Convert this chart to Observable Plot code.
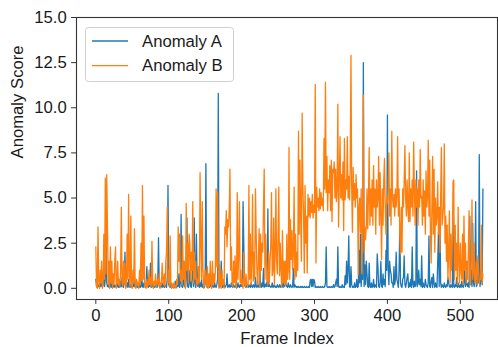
<!DOCTYPE html>
<html><head><meta charset="utf-8">
<script src="https://cdn.jsdelivr.net/npm/d3@7"></script>
<script src="https://cdn.jsdelivr.net/npm/@observablehq/plot@0.6"></script>
<style>body{margin:0;background:#fff}</style>
</head><body><div id="chart"></div>
<script>
const anomalyA = [
0.5,0.1,0.05,0.1,0.2,0.05,0.3,0.1,0.9,0.1,
0.2,1.0,0.1,0.5,3.6,0.3,0.1,0.2,0.05,0.1,
0.3,0.05,0.1,0.8,0.1,0.05,0.2,0.1,0.05,0.3,
0.1,0.05,0.2,0.05,0.4,0.1,0.6,0.1,0.05,0.3,
2.0,0.2,0.1,0.3,0.05,0.5,0.1,0.05,0.2,0.1,
0.05,0.2,0.1,0.6,0.05,0.1,0.3,0.05,0.1,0.05,
0.2,0.05,0.1,0.7,0.1,0.05,0.3,0.1,0.05,0.2,
1.2,0.1,0.05,0.2,0.1,1.4,0.05,0.1,0.3,0.05,
0.1,0.05,0.2,0.1,0.05,0.3,2.8,0.1,0.05,0.2,
0.1,0.05,0.3,0.1,0.05,0.2,0.1,0.05,0.6,5.7,
0.2,0.1,0.05,0.3,0.1,0.05,0.2,0.1,0.05,0.4,
0.1,0.05,0.2,0.1,0.8,0.05,0.3,4.1,0.1,0.05,
0.2,1.5,0.1,0.05,0.5,3.9,0.1,0.05,0.3,1.0,
0.1,0.05,0.5,2.0,0.1,3.9,0.3,0.05,3.0,0.2,
0.1,1.2,0.05,0.3,0.1,0.5,0.05,0.2,0.1,0.05,
0.3,6.9,0.1,0.05,0.2,0.1,0.05,0.4,0.1,0.05,
0.2,0.1,0.05,0.3,0.1,0.05,0.2,0.5,10.8,0.1,
0.05,0.2,1.5,0.3,0.05,0.1,0.3,0.05,0.1,0.2,
0.8,0.05,0.1,0.2,0.05,0.1,0.3,0.1,0.05,0.2,
0.1,0.05,0.2,0.1,0.05,0.3,0.1,0.05,0.2,0.1,
0.3,0.1,4.8,2.4,0.2,0.1,0.05,0.3,0.1,0.05,
0.2,0.1,0.05,0.3,0.1,0.05,0.2,0.1,0.05,0.6,
0.1,0.05,0.2,0.1,0.05,1.2,0.1,0.05,0.3,0.1,
1.1,0.05,0.2,0.1,0.3,0.1,4.4,0.1,0.2,0.1,
0.05,0.1,0.3,0.05,0.1,0.2,0.05,0.1,0.05,0.2,
0.1,0.05,0.2,0.1,0.05,0.3,0.1,0.05,1.2,0.1,
1.2,0.2,0.1,0.05,0.3,0.1,0.05,0.2,0.1,0.05,
0.1,1.1,0.05,0.2,0.1,0.05,0.1,0.05,0.1,0.05,
0.05,0.1,0.05,0.1,0.05,0.05,0.1,0.05,0.05,0.1,
0.05,0.05,0.1,0.05,0.4,0.5,0.1,0.5,0.1,0.5,
0.4,0.05,0.1,0.05,0.05,0.1,0.05,0.05,0.1,0.05,
0.05,0.1,0.05,0.05,0.1,0.3,2.3,0.1,0.05,0.05,
0.1,0.05,0.05,0.1,0.05,0.05,0.2,0.05,0.1,0.3,
0.5,0.1,2.3,0.1,0.05,0.1,0.05,0.05,0.2,0.05,
0.1,0.05,0.7,0.2,1.5,0.3,1.1,2.9,0.1,0.05,
1.2,0.2,0.05,0.1,0.05,0.3,0.05,0.1,0.5,0.05,
0.1,2.1,0.3,3.0,0.1,0.9,0.5,12.5,0.1,1.3,
0.2,1.5,0.8,0.1,0.05,1.4,0.1,0.05,0.3,0.05,
0.1,0.5,0.05,0.2,0.1,0.05,1.9,1.2,0.1,0.05,
0.3,1.5,0.1,0.05,0.8,0.2,0.5,0.1,2.1,1.0,
9.6,1.2,0.2,1.5,1.0,0.8,0.3,0.3,0.05,1.2,
0.2,0.5,2.0,0.5,0.3,0.05,1.0,3.6,0.3,0.1,
0.05,0.5,0.6,1.8,0.2,0.05,0.3,0.6,0.8,0.05,
0.3,0.1,0.5,0.05,2.3,0.2,0.05,0.4,0.1,0.2,
6.5,0.1,0.3,1.0,0.2,0.5,0.1,1.8,0.05,0.3,
0.1,0.05,0.5,0.2,0.1,0.05,0.3,2.9,0.1,0.05,
0.4,0.6,0.05,0.8,0.3,0.05,0.3,0.1,0.05,1.5,
3.1,0.1,4.2,0.3,0.05,0.2,0.1,0.05,0.3,0.1,
0.05,0.2,0.1,0.6,0.3,0.1,0.05,0.2,0.1,0.05,
3.9,0.1,0.05,0.2,0.1,0.6,0.05,0.3,0.1,0.05,
0.2,0.05,0.4,0.1,0.05,0.3,1.0,0.1,0.5,0.2,
0.1,0.3,0.05,4.0,0.2,1.0,0.1,3.6,0.3,0.1,
0.5,4.8,0.1,0.2,1.0,0.3,7.4,0.1,0.5,1.0,
0.2,5.5
];
const anomalyB = [
2.3,0.1,0,3.4,0.4,0,1.0,0.3,1.5,0,
0.2,3.0,0.5,6.1,0.8,6.3,3.5,0.2,1.5,0,
2.3,0.3,1.5,0,0.8,0.2,1.5,2.3,0,0.4,
1.5,0.2,0.5,0.1,1.0,4.5,0.3,0.1,1.5,0.3,
1.4,0,0.2,3.0,0.5,5.2,0.8,0.1,4.0,0.2,
0,1.0,0.3,3.3,0.2,0,0.5,0.2,0.3,0,
1.0,0.2,2.5,0.4,5.7,0.5,4.0,0.1,0.3,0,
0.5,0.1,0.2,1.0,0.2,0.6,0.1,2.6,0.3,0,
0.4,0.2,0.8,0.1,0.3,0.5,0.2,0.8,0,0.3,
0.2,1.4,0.5,0.2,0.8,0.1,1.5,2.0,4.5,0.3,
1.0,0.1,2.9,0.2,0,0.1,0.3,0,0.2,0.1,
0,0.5,0.2,3.4,1.5,3.0,0.4,1.0,0.2,2.9,
0.5,1.5,0.3,0,4.7,1.0,2.5,0.3,3.0,2.5,
0.4,2.0,1.0,4.8,0.3,2.0,0.5,1.5,0.2,0.5,
0.2,1.2,0.3,6.4,2.5,0.5,4.8,1.0,0,0.3,
1.0,0.5,0.1,1.2,0,0.8,0.1,1.5,0.3,0,
1.5,0.2,0.8,0.3,1.0,5.5,1.2,5.3,0.5,0,
1.3,0.3,0,1.0,0.2,0.5,0,3.4,3.0,4.3,
2.3,3.8,3.4,4.3,6.6,1.0,2.3,0.2,0.1,1.5,
0.3,1.8,0.2,0,5.3,0.5,1.9,4.8,0.3,1.0,
0.2,0.5,0,2.0,0.3,0.1,0.8,0.2,0.1,0.3,
5.7,0.5,3.0,0.2,1.5,5.2,0.4,2.0,0.5,5.5,
3.0,1.0,0.2,1.5,3.3,0.1,3.0,1.0,2.5,2.0,
4.5,6.6,0.5,3.0,1.5,0.5,0.2,2.0,0.3,1.5,
2.5,5.3,0.7,1.0,3.9,0.2,2.0,5.5,1.5,0.8,
3.0,5.6,0.7,2.5,1.0,0.1,3.2,0.3,1.5,0.2,
1.5,0.2,3.0,0.5,1.0,7.8,0.5,3.8,1.6,3.2,
1.0,2.0,5.6,0.5,3.0,0.65,2.0,1.0,8.7,3.0,
7.1,4.0,1.5,9.7,5.7,4.0,0.85,5.7,2.5,4.0,
0.85,5.2,4.0,5.0,3.9,4.8,4.2,5.2,3.9,4.6,
4.2,11.3,1.4,5.6,4.5,5.0,4.3,5.5,4.4,5.3,
4.6,5.0,4.3,8.3,5.5,11.4,5.3,7.3,4.3,6.0,
5.3,6.8,4.3,7.1,3.7,6.6,6.4,7.0,5.0,6.6,
4.8,5.5,10.2,3.4,6.0,8.4,5.0,6.3,4.9,7.0,
3.2,8.3,4.9,6.0,5.5,8.4,5.0,6.2,4.9,6.7,
12.9,5.5,3.1,6.7,4.9,5.8,4.5,6.3,5.0,5.5,
0.75,4.5,5.0,3.1,5.5,0.8,3.5,10.7,2.0,3.4,
2.7,3.4,5.5,3.3,5.0,7.8,3.5,5.5,4.0,6.0,
3.5,6.8,4.5,5.5,3.0,6.0,4.5,5.0,7.3,3.5,
6.4,4.0,1.6,5.5,3.5,6.0,7.2,4.5,3.0,5.0,
4.7,5.5,7.5,4.0,5.5,3.5,8.7,5.0,4.5,5.2,
4.0,5.5,4.5,5.2,8.4,4.0,5.5,3.0,1.9,4.5,
2.0,5.5,4.5,6.0,7.9,5.0,4.0,6.0,4.5,3.7,
7.5,3.7,5.5,4.5,6.0,4.0,8.1,5.5,3.5,6.0,
4.5,5.5,3.5,6.0,4.5,7.7,5.0,5.1,3.5,6.0,
4.0,5.4,3.0,6.5,4.5,5.0,8.2,4.0,7.1,3.0,
1.4,4.5,7.3,3.0,6.6,2.0,5.0,3.5,4.0,5.9,
3.0,4.5,2.0,5.0,7.8,3.5,4.0,4.5,8.0,2.5,
4.0,1.5,3.5,0.5,2.0,4.3,0.3,3.0,1.0,2.5,
5.9,6.0,0.5,3.5,1.0,2.5,0.2,4.5,1.5,0.3,
2.5,1.0,0.5,3.0,0.2,4.0,1.0,2.5,0.3,1.5,
0.5,2.0,4.3,0.5,0.2,1.5,4.9,0.5,1.0,2.5,
0.3,0.5,1.5,0.2,1.8,1.0,0.3,0.5,0.5,3.5,
0.3,0.8
];
const xTicks = [0, 100, 200, 300, 400, 500];
const yTicks = [0, 2.5, 5, 7.5, 10, 12.5, 15];
const seriesNames = ["Anomaly A", "Anomaly B"];
const seriesColors = ["#1f77b4", "#ff7f0e"];
const xLabel = "Frame Index";
const yLabel = "Anomaly Score";

const font = "'Liberation Sans', Arial, Helvetica, sans-serif";
const ink = "#1a1a1a";
const chart = Plot.plot({
  width: 498, height: 347,
  marginTop: 17, marginBottom: 48, marginLeft: 76, marginRight: 1,
  style: {fontFamily: font, fontSize: "16.7px", color: ink, background: "#fff"},
  x: {domain: [-26.5, 551]},
  y: {domain: [-0.62, 15]},
  marks: [
    Plot.lineY(anomalyA, {stroke: seriesColors[0], strokeWidth: 1.3}),
    Plot.lineY(anomalyB, {stroke: seriesColors[1], strokeWidth: 1.3}),
    Plot.frame({stroke: "#333", strokeWidth: 1.1}),
    Plot.axisX({ticks: xTicks, tickSize: 4.9, tickPadding: 4.9, label: null, tickFormat: d => String(d), stroke: "#333", fill: ink}),
    Plot.axisY({ticks: yTicks, tickSize: 4.9, tickPadding: 4.9, label: null, tickFormat: d => d.toFixed(1), stroke: "#333", fill: ink}),
    Plot.text([xLabel], {frameAnchor: "bottom", dy: 44, fontSize: 16.7, fill: ink}),
    Plot.text([yLabel], {frameAnchor: "left", dx: -59, rotate: -90, fontSize: 16.7, fill: ink})
  ]
});
const svg = d3.select(chart);
const lg = svg.append("g").attr("text-anchor", "start");
lg.append("rect").attr("x", 85.5).attr("y", 27.5).attr("width", 148).attr("height", 54)
  .attr("rx", 3).attr("fill", "#fff").attr("fill-opacity", 0.8).attr("stroke", "#d0d0d0");
seriesNames.forEach((n, i) => {
  const y = 41 + i * 24.6;
  lg.append("line").attr("x1", 92).attr("x2", 128).attr("y1", y).attr("y2", y)
    .attr("stroke", seriesColors[i]).attr("stroke-width", 1.4);
  lg.append("text").attr("x", 142).attr("y", y).attr("dy", "0.35em")
    .attr("text-anchor", "start")
    .attr("font-size", 16.7).attr("fill", ink).attr("font-family", font).text(n);
});
document.getElementById("chart").appendChild(chart);
</script>
</body></html>
